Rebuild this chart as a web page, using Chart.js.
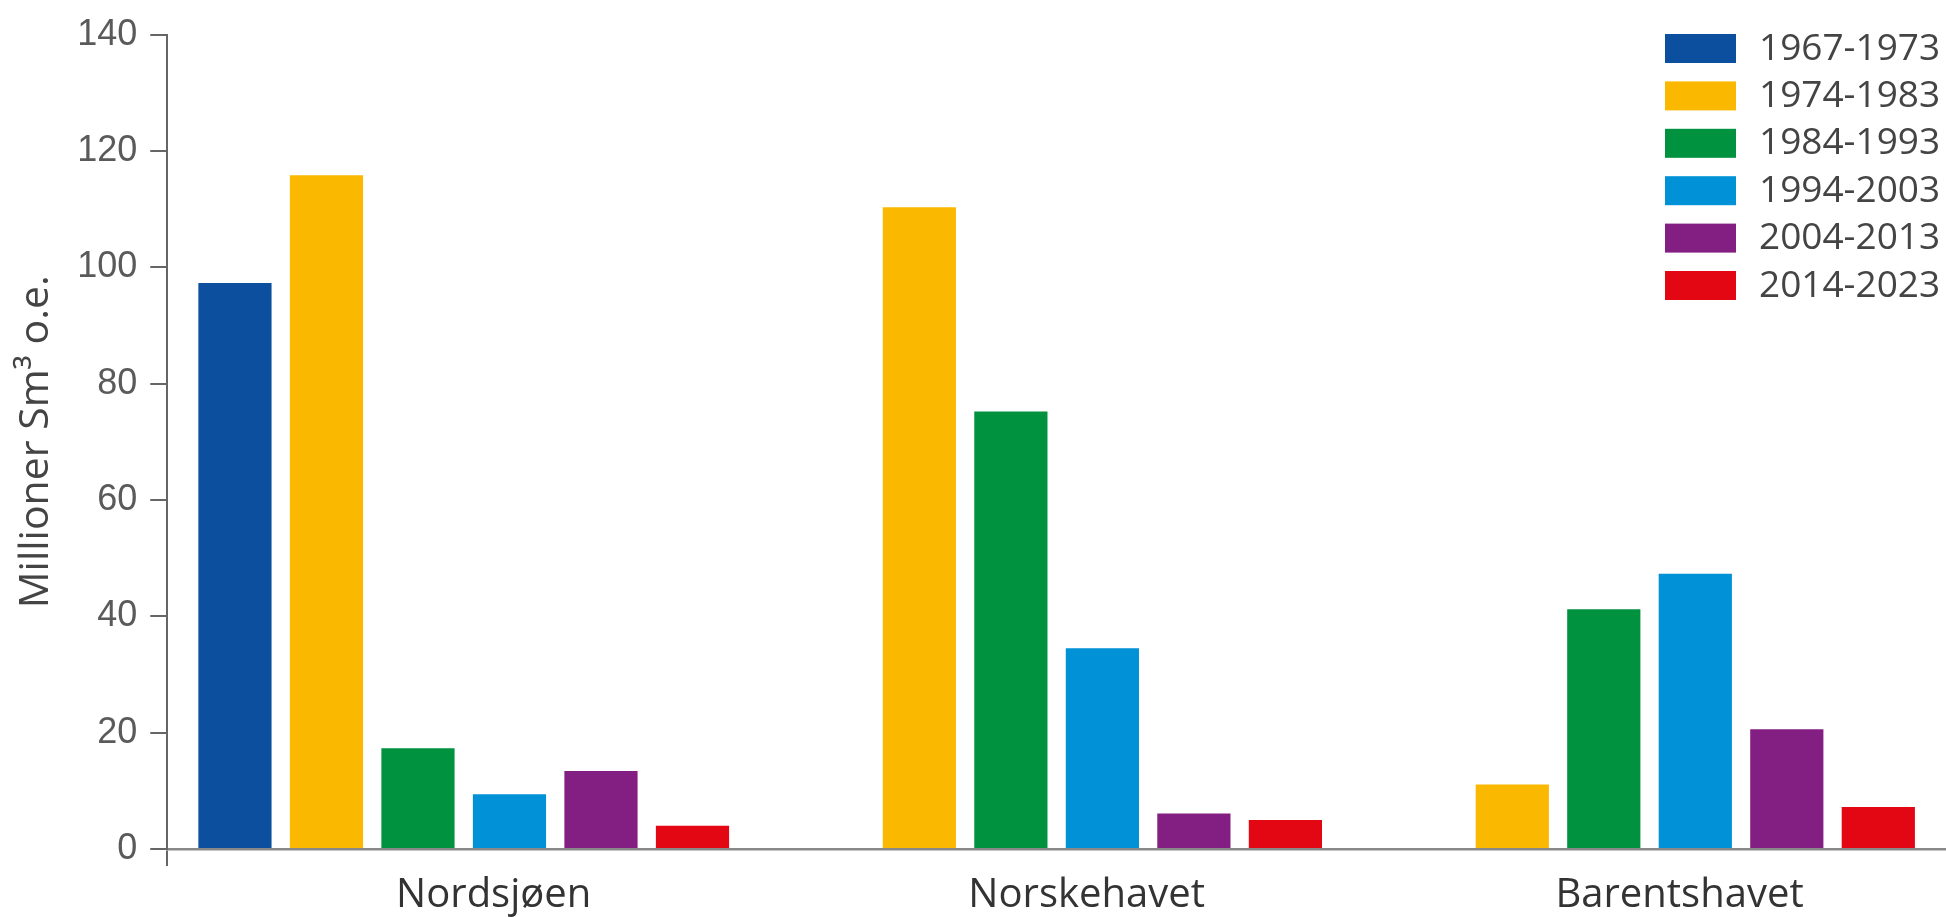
<!DOCTYPE html>
<html>
<head>
<meta charset="utf-8">
<script src="https://cdn.jsdelivr.net/npm/chart.js@4.4.1/dist/chart.umd.min.js"></script>
<style>
  html, body { margin: 0; padding: 0; background: #fff; }
  #wrap { width: 1946px; height: 917px; }
</style>
</head>
<body>
<div id="wrap"><canvas id="chart" width="1946" height="917"></canvas></div>
<script>
// data (Millioner Sm³ o.e.)
const categories = ['Nordsjøen', 'Norskehavet', 'Barentshavet'];
const periods = ['1967-1973', '1974-1983', '1984-1993', '1994-2003', '2004-2013', '2014-2023'];
const colors = ['#0b4f9e', '#fab900', '#00923f', '#0091d6', '#831f82', '#e30613'];

const v1967 = [97.3, null, null];
const v1974 = [115.8, 110.3, 11.1];
const v1984 = [17.3, 75.2, 41.2];
const v1994 = [9.4, 34.5, 47.3];
const v2004 = [13.4, 6.1, 20.6];
const v2014 = [4.0, 5.0, 7.2];

const yTicks = [0, 20, 40, 60, 80, 100, 120, 140];

const seriesValues = [v1967, v1974, v1984, v1994, v2004, v2014];

// legend drawn in the top right corner, over the plot
const cornerLegend = {
    id: 'cornerLegend',
    afterDraw(chart) {
        const ctx = chart.ctx;
        ctx.save();
        ctx.font = '37px "Open Sans"';
        ctx.textBaseline = 'middle';
        ctx.textAlign = 'left';
        chart.data.datasets.forEach(function(ds, i) {
            const top = 34 + i * 47.4;
            ctx.fillStyle = ds.backgroundColor;
            ctx.fillRect(1665, top, 71, 29);
            ctx.fillStyle = '#444';
            ctx.fillText(ds.label, 1759, top + 15);
        });
        ctx.restore();
    }
};

const ctx = document.getElementById('chart').getContext('2d');
const chart = new Chart(ctx, {
    type: 'bar',
    data: {
        labels: categories,
        datasets: periods.map(function(p, i) {
            return {
                label: p,
                data: seriesValues[i],
                backgroundColor: colors[i],
                borderWidth: 0,
                categoryPercentage: 0.926,
                barPercentage: 0.8
            };
        })
    },
    options: {
        responsive: false,
        animation: false,
        devicePixelRatio: 1,
        layout: { padding: { top: 33, left: 12, right: 0, bottom: 0 } },
        plugins: {
            legend: { display: false },
            tooltip: { enabled: false }
        },
        scales: {
            x: {
                afterFit: function(scale) { scale.height = 68; },
                border: { display: true, color: '#888', width: 2.5 },
                grid: {
                    drawOnChartArea: false,
                    drawTicks: true,
                    tickLength: 17,
                    lineWidth: 2,
                    color: function(c) { return c.index === 0 ? '#666' : 'rgba(0,0,0,0)'; }
                },
                ticks: {
                    padding: 10,
                    labelOffset: 30,
                    color: '#333',
                    font: { family: 'Open Sans', size: 40, lineHeight: 1.0 }
                }
            },
            y: {
                min: 0,
                max: 140,
                afterBuildTicks: function(axis) {
                    axis.ticks = yTicks.map(function(v) { return { value: v }; });
                },
                border: { display: true, color: '#666', width: 2 },
                grid: {
                    drawOnChartArea: false,
                    drawTicks: true,
                    tickLength: 17,
                    lineWidth: 2,
                    color: '#666'
                },
                ticks: {
                    padding: 13,
                    color: '#5a5a5a',
                    font: { family: 'Liberation Sans', size: 36 }
                },
                title: {
                    display: true,
                    text: 'Millioner Sm³ o.e.',
                    color: '#444',
                    font: { family: 'Open Sans', size: 41, lineHeight: 1.2 },
                    padding: { top: 0, bottom: 3 }
                }
            }
        }
    },
    plugins: [cornerLegend]
});
</script>
</body>
</html>
